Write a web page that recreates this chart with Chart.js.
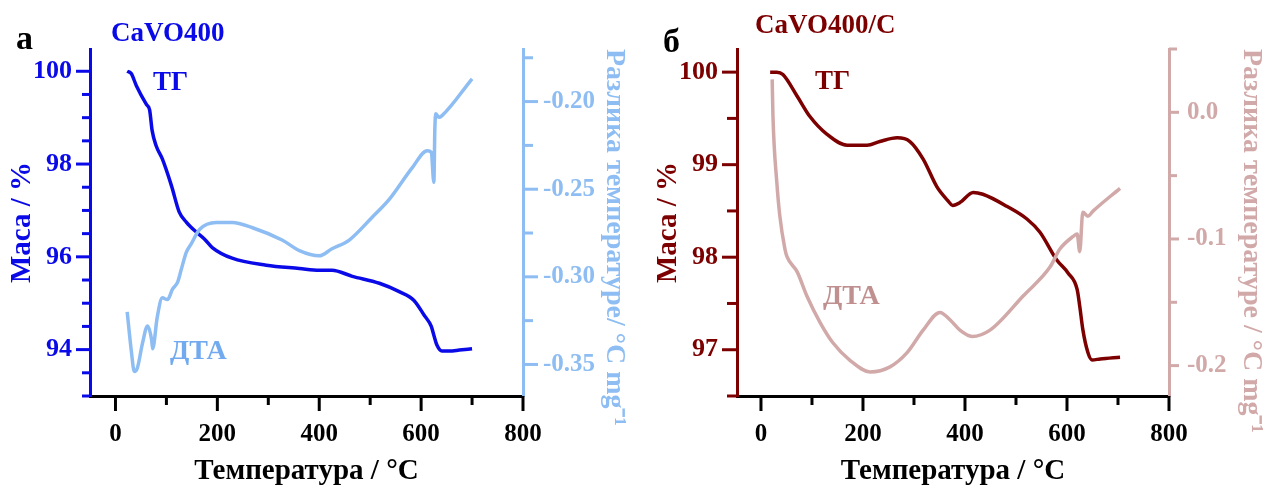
<!DOCTYPE html>
<html>
<head>
<meta charset="utf-8">
<script src="https://cdn.jsdelivr.net/npm/chart.js@4/dist/chart.umd.min.js"></script>
<style>
  html, body { margin: 0; padding: 0; background: #fff; }
  #wrap { position: relative; width: 1268px; height: 486px; }
  canvas { position: absolute; top: 0; }
  #chartA { left: 0; }
  #chartB { left: 634px; }
</style>
</head>
<body>
<div id="wrap">
  <canvas id="chartA" width="634" height="486"></canvas>
  <canvas id="chartB" width="634" height="486"></canvas>
</div>
<script>
// CaVO400 — TG (mass, %) and DTA (°C/mg)
const tempTgA = [23, 31, 41, 61, 67, 72, 80, 92, 110, 125, 139, 159, 175, 190, 229, 296, 361, 400, 425, 465, 518, 557, 586, 606, 620, 625, 631, 641, 655, 675, 700];
const massA = [100.0, 99.95, 99.69, 99.28, 99.17, 98.72, 98.39, 98.11, 97.53, 96.97, 96.75, 96.53, 96.38, 96.2, 95.97, 95.82, 95.75, 95.71, 95.71, 95.58, 95.43, 95.25, 95.06, 94.74, 94.50, 94.31, 94.10, 93.97, 93.97, 93.99, 94.02];
const tempDtaA = [23, 31, 37, 43, 53, 63, 71, 73, 82, 92, 102, 112, 122, 129, 139, 149, 165, 198, 229, 269, 327, 361, 400, 425, 459, 504, 537, 582, 612, 620, 625, 627, 629, 635, 641, 700];
const dtaA = [-0.320, -0.342, -0.354, -0.352, -0.338, -0.328, -0.336, -0.341, -0.323, -0.312, -0.313, -0.307, -0.303, -0.296, -0.286, -0.281, -0.273, -0.269, -0.269, -0.272, -0.279, -0.285, -0.288, -0.284, -0.279, -0.266, -0.256, -0.238, -0.228, -0.229, -0.246, -0.215, -0.207, -0.209, -0.208, -0.187];

// CaVO400/C
const tempTgB = [18, 31, 43, 71, 96, 129, 169, 208, 233, 267, 292, 318, 345, 365, 376, 390, 416, 435, 482, 522, 547, 580, 602, 620, 625, 631, 641, 649, 665, 704];
const massB = [100.0, 100.0, 99.975, 99.74, 99.52, 99.33, 99.21, 99.21, 99.25, 99.29, 99.25, 99.06, 98.76, 98.62, 98.56, 98.59, 98.70, 98.68, 98.55, 98.41, 98.27, 97.97, 97.83, 97.65, 97.47, 97.22, 96.97, 96.89, 96.90, 96.92];
const tempDtaB = [22, 23.5, 31, 37, 47, 51, 71, 90, 116, 141, 175, 214, 253, 286, 318, 351, 371, 390, 414, 449, 514, 567, 586, 612, 620, 625, 631, 641, 651, 704];
const dtaB = [0.026, -0.003, -0.055, -0.082, -0.108, -0.114, -0.126, -0.145, -0.166, -0.182, -0.196, -0.205, -0.201, -0.190, -0.172, -0.158, -0.164, -0.172, -0.177, -0.172, -0.145, -0.122, -0.108, -0.098, -0.096, -0.110, -0.079, -0.082, -0.078, -0.060];

const serif = "'Liberation Serif', 'Times New Roman', serif";
const W = 634, H = 486, TOP = 49, XH = 90;

const isMultiple = (v, step) => Math.abs(v / step - Math.round(v / step)) < 1e-6;

// outward tick marks, long for labelled values, short in between
function drawTicks(chart, marks) {
  const ctx = chart.ctx;
  ctx.save();
  ctx.lineWidth = 3;
  for (const id in marks) {
    const m = marks[id];
    const scale = chart.scales[id];
    ctx.strokeStyle = m.color;
    scale.ticks.forEach(t => {
      if (!isMultiple(t.value, m.step)) return;
      const len = isMultiple(t.value, m.major) ? m.long : m.short;
      const p = scale.getPixelForValue(t.value);
      ctx.beginPath();
      if (scale.position === 'bottom') {
        ctx.moveTo(p, scale.top); ctx.lineTo(p, scale.top + len);
      } else if (scale.position === 'left') {
        ctx.moveTo(scale.right, p); ctx.lineTo(scale.right - len, p);
      } else {
        ctx.moveTo(scale.left, p); ctx.lineTo(scale.left + len, p);
      }
      ctx.stroke();
    });
  }
  ctx.restore();
}

function drawTexts(chart, texts) {
  const ctx = chart.ctx;
  ctx.save();
  ctx.textAlign = 'left';
  ctx.textBaseline = 'alphabetic';
  texts.forEach(t => {
    ctx.font = `bold ${t.size}px ${serif}`;
    ctx.fillStyle = t.color;
    ctx.fillText(t.text, t.x, t.y);
  });
  ctx.restore();
}

function axisFont(size) {
  return { family: serif, size, weight: 'bold', lineHeight: 1 };
}

function buildPanel(id, p) {
  const decor = {
    id: 'decor',
    afterDraw(chart) {
      drawTicks(chart, {
        x: { step: 100, major: 200, long: 15, short: 9, color: '#000' },
        y: p.left.marks,
        y1: p.right.marks
      });
      drawTexts(chart, p.texts);
    }
  };

  return new Chart(document.getElementById(id), {
    type: 'line',
    data: {
      datasets: [
        {
          data: p.dtaT.map((t, i) => ({ x: t, y: p.dta[i] })),
          yAxisID: 'y1',
          borderColor: p.right.color
        },
        {
          data: p.tgT.map((t, i) => ({ x: t, y: p.tg[i] })),
          yAxisID: 'y',
          borderColor: p.left.color
        }
      ]
    },
    options: {
      responsive: false,
      animation: false,
      layout: { padding: { top: TOP, left: 0, right: 0, bottom: 0 } },
      plugins: { legend: { display: false }, tooltip: { enabled: false } },
      elements: {
        point: { radius: 0 },
        line: { borderWidth: 3.5, cubicInterpolationMode: 'monotone', fill: false }
      },
      scales: {
        x: {
          type: 'linear',
          position: 'bottom',
          min: p.xMin,
          max: 800,
          grid: { display: false, drawTicks: false },
          border: { display: true, color: '#000', width: 3 },
          ticks: {
            stepSize: 100,
            includeBounds: false,
            autoSkip: false,
            maxRotation: 0,
            padding: 26,
            color: '#000',
            font: { family: serif, size: 25, weight: 'bold', lineHeight: 1 },
            callback: v => isMultiple(v, 200) ? String(v) : ''
          },
          title: {
            display: true,
            text: 'Температура / °C',
            color: '#000',
            font: axisFont(29),
            padding: { top: 0, bottom: 0 }
          },
          afterFit: s => { s.height = XH; }
        },
        y: {
          type: 'linear',
          position: 'left',
          min: p.left.min,
          max: p.left.max,
          grid: { display: false, drawTicks: false },
          border: { display: true, color: p.left.color, width: 3 },
          ticks: {
            stepSize: p.left.marks.step,
            includeBounds: false,
            autoSkip: false,
            padding: p.left.pad,
            color: p.left.color,
            font: { family: serif, size: 26, weight: 'bold', lineHeight: 1 },
            callback: v => isMultiple(v, p.left.marks.major) ? v.toFixed(p.left.dec) : ''
          },
          title: {
            display: true,
            text: 'Маса / %',
            color: p.left.color,
            font: axisFont(29),
            padding: { top: p.left.titlePad, bottom: 0 }
          },
          afterFit: s => { s.width = p.left.width; }
        },
        y1: {
          type: 'linear',
          position: 'right',
          min: p.right.min,
          max: p.right.max,
          grid: { display: false, drawTicks: false },
          border: { display: true, color: p.right.color, width: 3 },
          ticks: {
            stepSize: p.right.marks.step,
            includeBounds: false,
            autoSkip: false,
            padding: p.right.pad,
            color: p.right.color,
            font: { family: serif, size: 25, weight: 'bold', lineHeight: 1 },
            callback: v => isMultiple(v, p.right.marks.major) ? v.toFixed(p.right.dec) : ''
          },
          title: {
            display: true,
            text: p.right.title,
            align: 'end',
            color: p.right.color,
            font: axisFont(28),
            padding: { top: p.right.titlePad, bottom: 0 }
          },
          afterFit: s => { s.width = p.right.width; }
        }
      }
    },
    plugins: [decor]
  });
}

const blue = '#0a0ae8', lightBlue = '#8dbdf2';
const maroon = '#7d0000', pink = '#d2a9a9';

buildPanel('chartA', {
  tgT: tempTgA, tg: massA, dtaT: tempDtaA, dta: dtaA,
  xMin: -50,
  left: {
    color: blue, min: 93, max: 100.48, dec: 0, pad: 18, titlePad: 8, width: 90,
    marks: { step: 0.5, major: 2, long: 14, short: 8, color: blue }
  },
  right: {
    color: lightBlue, min: -0.368, max: -0.170, dec: 2, pad: 20, titlePad: 5.5, width: W - 523,
    title: 'Разлика температуре/ °C mg⁻¹',
    marks: { step: 0.025, major: 0.05, long: 15, short: 10, color: lightBlue }
  },
  texts: [
    { text: 'а', x: 16, y: 49, size: 34, color: '#000' },
    { text: 'CaVO400', x: 111, y: 41, size: 27, color: blue },
    { text: 'ТГ', x: 153, y: 90, size: 27, color: blue },
    { text: 'ДТА', x: 170, y: 359, size: 28, color: '#72aaf0' }
  ]
});

buildPanel('chartB', {
  tgT: tempTgB, tg: massB, dtaT: tempDtaB, dta: dtaB,
  xMin: -47,
  left: {
    color: maroon, min: 96.5, max: 100.25, dec: 0, pad: 19, titlePad: 20, width: 103,
    marks: { step: 0.5, major: 1, long: 15, short: 10, color: maroon }
  },
  right: {
    color: pink, min: -0.224, max: 0.05, dec: 1, pad: 18, titlePad: 2.5, width: W - 535,
    title: 'Разлика температуре / °C mg⁻¹',
    marks: { step: 0.05, major: 0.1, long: 10, short: 8, color: pink }
  },
  texts: [
    { text: 'б', x: 29, y: 52, size: 34, color: '#000' },
    { text: 'CaVO400/C', x: 121, y: 33, size: 27, color: maroon },
    { text: 'ТГ', x: 181, y: 89, size: 27, color: maroon },
    { text: 'ДТА', x: 189, y: 304, size: 28, color: '#c09090' }
  ]
});
</script>
</body>
</html>
